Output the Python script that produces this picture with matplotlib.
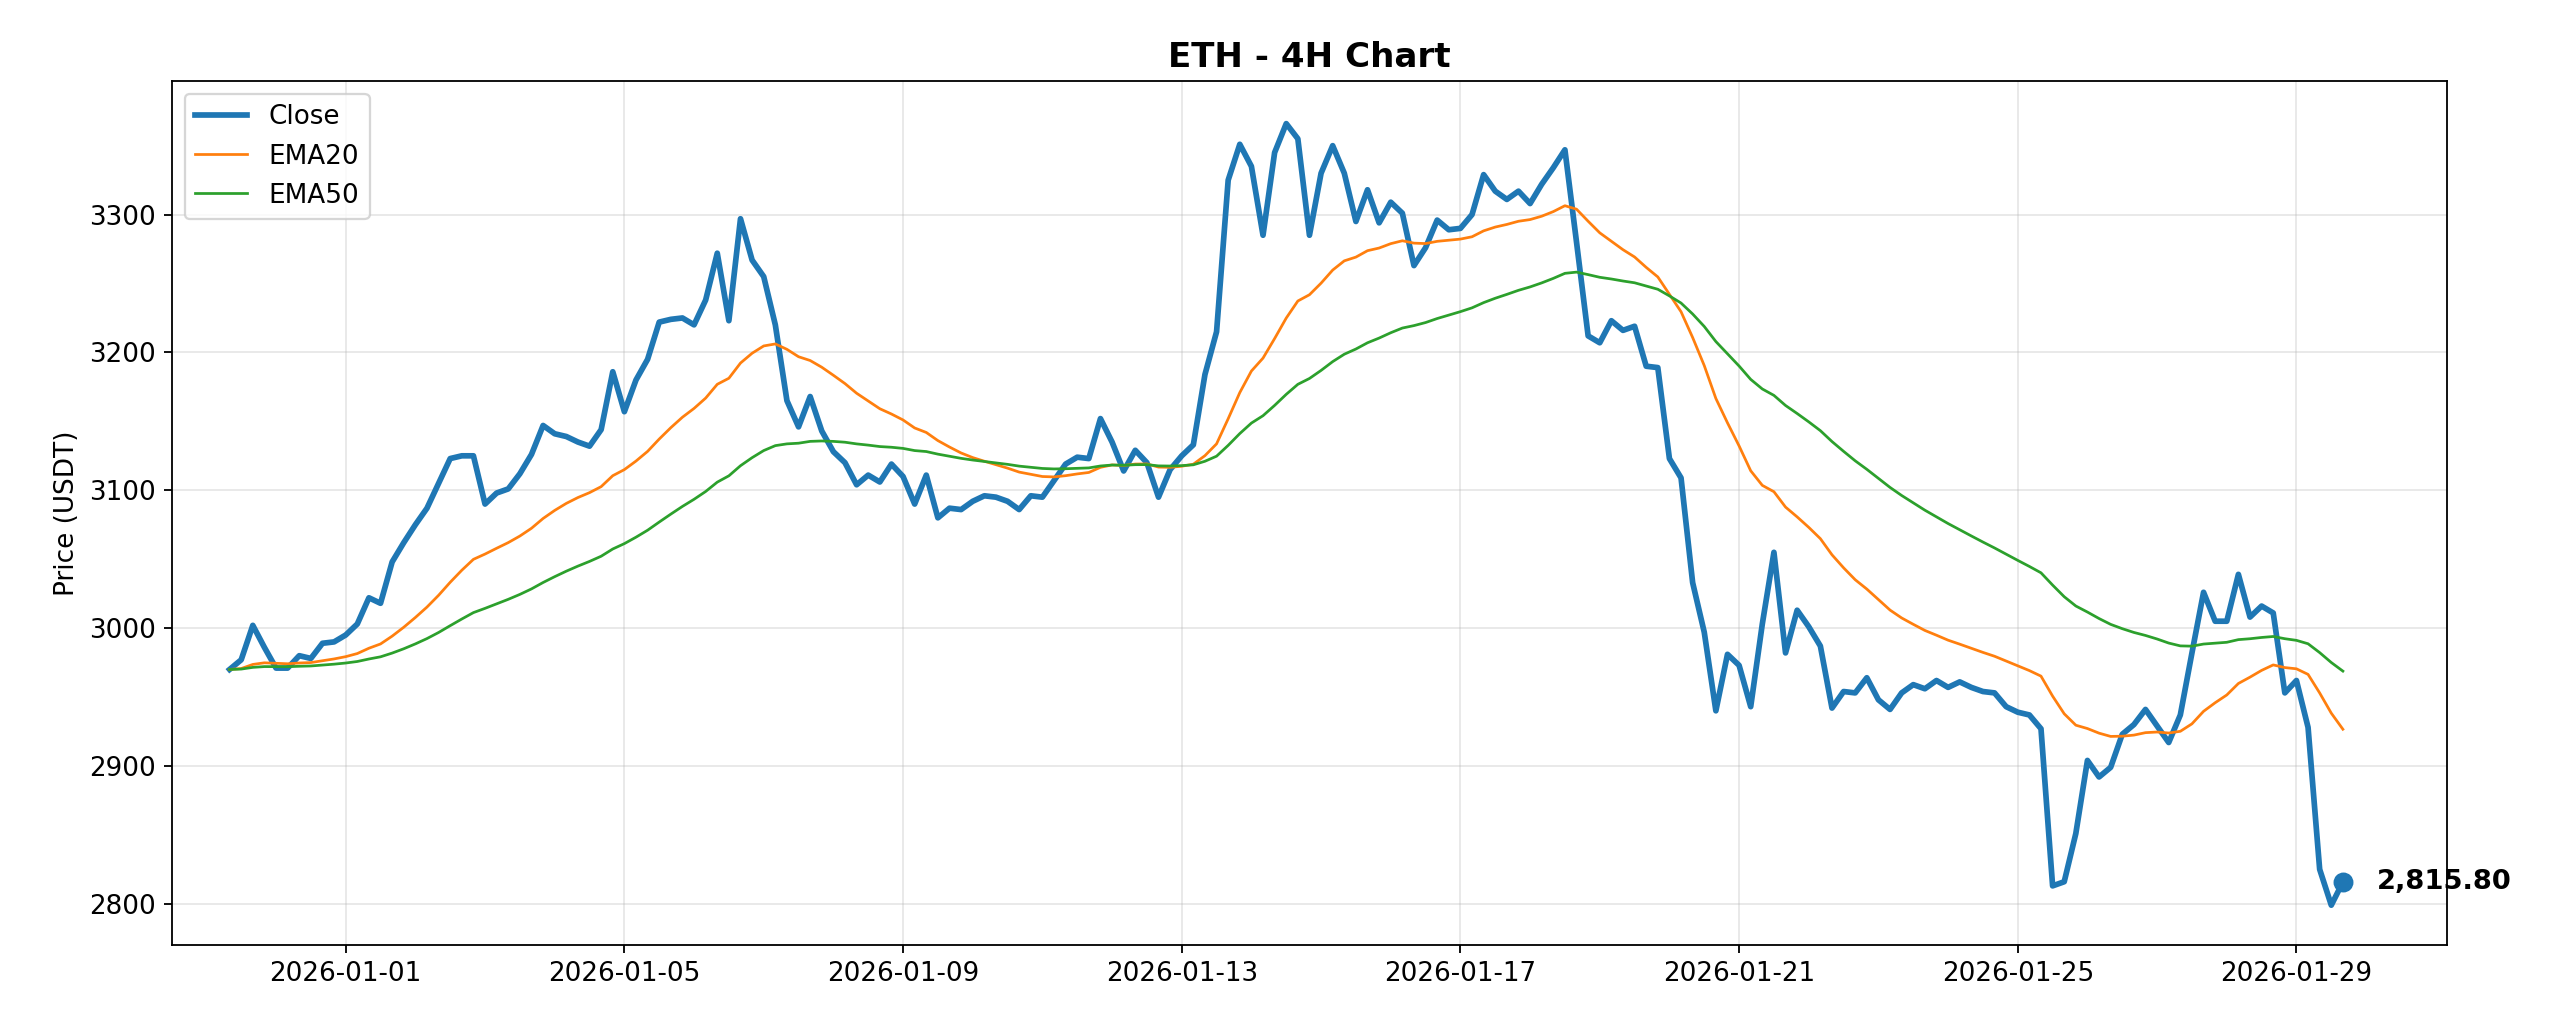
import numpy as np
import pandas as pd
import matplotlib
matplotlib.use('Agg')
import matplotlib.pyplot as plt

plt.rcParams['font.size'] = 11.5

# 4H closes (starting 2025-12-30 08:00)
start = '2025-12-30 08:00'
close_dec = [2970, 2977, 3002, 2986, 2971, 2971, 2980, 2978, 2989, 2990]
close_w1 = [2995, 3003, 3022, 3018, 3048, 3062, 3075, 3087, 3105, 3123, 3125, 3125,
            3090, 3098, 3101, 3112, 3126, 3147, 3141, 3139, 3135, 3132, 3144, 3186]
close_w2 = [3157, 3180, 3195, 3222, 3224, 3225, 3220, 3238, 3272, 3223, 3297, 3267,
            3255, 3220, 3165, 3146, 3168, 3143, 3128, 3120, 3104, 3111, 3106, 3119]
close_w3 = [3110, 3090, 3111, 3080, 3087, 3086, 3092, 3096, 3095, 3092, 3086, 3096,
            3095, 3107, 3119, 3124, 3123, 3152, 3135, 3114, 3129, 3120, 3095, 3115]
close_w4 = [3125, 3133, 3184, 3215, 3325, 3351, 3335, 3285, 3345, 3366, 3355, 3285,
            3330, 3350, 3330, 3295, 3318, 3294, 3309, 3301, 3263, 3276, 3296, 3289]
close_w5 = [3290, 3300, 3329, 3317, 3311, 3317, 3308, 3322, 3334, 3347, 3280, 3212,
            3207, 3223, 3216, 3219, 3190, 3189, 3123, 3109, 3033, 2997, 2940, 2981]
close_w6 = [2973, 2943, 3003, 3055, 2982, 3013, 3001, 2987, 2942, 2954, 2953, 2964,
            2948, 2941, 2953, 2959, 2956, 2962, 2957, 2961, 2957, 2954, 2953, 2943]
close_w7 = [2939, 2937, 2927, 2813, 2816, 2851, 2904, 2892, 2899, 2923, 2930, 2941,
            2929, 2917, 2937, 2982, 3026, 3005, 3005, 3039, 3008, 3016, 3011, 2953]
close_end = [2962, 2928, 2825, 2799, 2815.8]

close = close_dec + close_w1 + close_w2 + close_w3 + close_w4 + close_w5 + close_w6 + close_w7 + close_end
idx = pd.date_range(start, periods=len(close), freq='4h')
s = pd.Series(close, index=idx)
ema20 = s.ewm(span=20, adjust=False).mean()
ema50 = s.ewm(span=50, adjust=False).mean()

fig = plt.figure(figsize=(15.61, 6.244), dpi=164)
ax = fig.add_axes([0.067, 0.077, 0.889, 0.844])
ax.plot(idx, s.values, color='#1f77b4', lw=2.5, label='Close')
ax.plot(idx, ema20.values, color='#ff7f0e', lw=1.2, label='EMA20')
ax.plot(idx, ema50.values, color='#2ca02c', lw=1.2, label='EMA50')
ax.scatter([idx[-1]], [close[-1]], color='#1f77b4', s=60, zorder=5)
ax.annotate(f'{close[-1]:,.2f}', (idx[-1], close[-1]), xytext=(15, 0),
            textcoords='offset points', va='center', fontsize=12, fontweight='bold')

ax.set_title('ETH - 4H Chart', fontsize=15, fontweight='bold')
ax.set_ylabel('Price (USDT)')
ax.grid(True, alpha=0.3)
ax.legend(loc='upper left')
ax.set_xlim(idx[0] - pd.Timedelta(hours=20), idx[-1] + pd.Timedelta(hours=36))
ax.set_ylim(2770, 3397)
ticks = pd.date_range('2026-01-01', '2026-01-29', freq='4D')
ax.set_xticks(ticks)
ax.set_xticklabels([t.strftime('%Y-%m-%d') for t in ticks])

fig.savefig('out.png')
